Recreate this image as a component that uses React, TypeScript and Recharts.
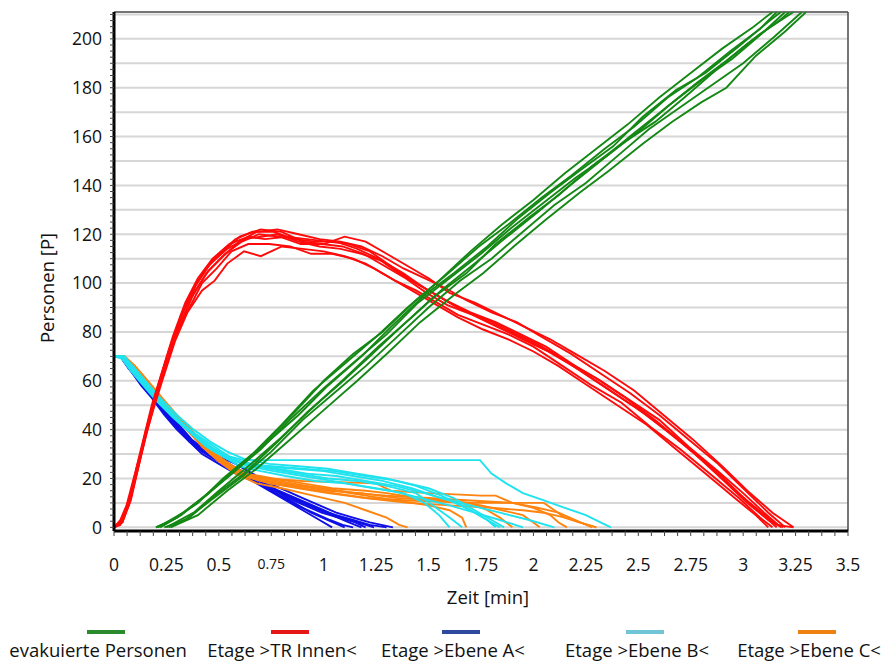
import { LineChart, Line, XAxis, YAxis, CartesianGrid, ReferenceLine, Label } from 'recharts';

// time [min], persons [P] – one array per simulation run
const evakuiertePersonen: number[][][] = [
  [[0.2,0],[0.3,4],[0.42,12],[0.55,21],[0.7,32],[0.85,45],[1.0,57],[1.15,68],[1.3,79],[1.45,92],[1.6,102],[1.75,112],[1.9,123],[2.05,133],[2.2,143],[2.35,152],[2.5,162],[2.65,173],[2.8,183],[2.95,192],[3.1,203],[3.2,211]],
  [[0.24,0],[0.34,3],[0.46,11],[0.6,20],[0.75,31],[0.9,44],[1.05,55],[1.2,66],[1.35,78],[1.5,90],[1.65,101],[1.8,110],[1.95,121],[2.1,132],[2.25,141],[2.4,152],[2.55,163],[2.7,172],[2.85,181],[3.0,190],[3.15,201],[3.28,211]],
  [[0.2,0],[0.28,3],[0.4,10],[0.52,20],[0.66,30],[0.8,42],[0.95,56],[1.1,67],[1.25,78],[1.4,90],[1.55,101],[1.7,113],[1.85,124],[2.0,134],[2.15,145],[2.3,155],[2.45,165],[2.6,176],[2.75,186],[2.9,196],[3.05,205],[3.14,211]],
  [[0.26,0],[0.36,4],[0.48,13],[0.62,22],[0.78,35],[0.92,47],[1.08,59],[1.22,70],[1.38,83],[1.52,94],[1.68,104],[1.82,116],[1.98,127],[2.12,136],[2.28,148],[2.42,157],[2.58,166],[2.72,176],[2.88,188],[3.02,198],[3.18,208],[3.22,211]],
  [[0.22,0],[0.32,5],[0.45,14],[0.58,24],[0.72,34],[0.88,46],[1.02,58],[1.18,70],[1.32,82],[1.48,95],[1.62,104],[1.78,115],[1.92,126],[2.08,137],[2.22,146],[2.38,156],[2.52,168],[2.68,179],[2.82,186],[2.98,197],[3.12,207],[3.18,211]],
  [[0.25,0],[0.38,6],[0.5,15],[0.64,25],[0.8,37],[0.96,50],[1.1,61],[1.26,74],[1.42,86],[1.56,97],[1.72,108],[1.86,118],[2.02,129],[2.16,139],[2.32,150],[2.46,160],[2.62,171],[2.78,182],[2.92,191],[3.08,202],[3.24,211]],
  [[0.27,0],[0.4,5],[0.54,15],[0.68,24],[0.84,36],[1.0,48],[1.16,60],[1.3,71],[1.46,84],[1.62,95],[1.76,104],[1.92,116],[2.06,126],[2.22,137],[2.36,146],[2.52,157],[2.66,166],[2.8,174],[2.92,180],[3.06,193],[3.2,203],[3.3,211]],
  [[0.21,0],[0.33,6],[0.44,13],[0.56,22],[0.7,33],[0.86,47],[1.0,60],[1.14,71],[1.28,80],[1.44,93],[1.58,103],[1.74,115],[1.88,124],[2.04,135],[2.18,144],[2.34,155],[2.48,164],[2.64,176],[2.78,184],[2.94,195],[3.08,204],[3.16,211]],
];

const trInnen: number[][][] = [
  [[0,0],[0.03,2],[0.07,10],[0.11,24],[0.15,39],[0.19,52],[0.24,66],[0.3,82],[0.36,95],[0.43,105],[0.5,112],[0.58,118],[0.66,121],[0.76,121],[0.86,118],[0.96,117],[1.06,117],[1.16,114],[1.26,110],[1.36,104],[1.46,99],[1.56,94],[1.66,89],[1.78,85],[1.9,80],[2.02,75],[2.16,68],[2.3,61],[2.44,53],[2.58,44],[2.72,34],[2.86,24],[2.98,14],[3.08,6],[3.16,0]],
  [[0,0],[0.04,2],[0.08,12],[0.12,27],[0.16,42],[0.2,55],[0.26,72],[0.32,87],[0.38,98],[0.44,106],[0.52,113],[0.6,119],[0.7,122],[0.8,121],[0.9,117],[1.0,116],[1.1,119],[1.2,117],[1.3,112],[1.4,107],[1.5,102],[1.6,96],[1.72,92],[1.84,87],[1.96,82],[2.08,77],[2.2,71],[2.34,64],[2.48,56],[2.62,46],[2.76,36],[2.9,25],[3.02,15],[3.14,6],[3.24,0]],
  [[0,0],[0.03,1],[0.07,9],[0.11,23],[0.15,37],[0.19,49],[0.23,60],[0.29,76],[0.35,88],[0.42,97],[0.48,101],[0.54,108],[0.62,113],[0.7,111],[0.8,115],[0.9,114],[1.0,113],[1.1,111],[1.2,108],[1.32,102],[1.44,96],[1.54,91],[1.64,86],[1.76,81],[1.88,77],[2.0,72],[2.12,66],[2.26,58],[2.4,50],[2.54,42],[2.68,32],[2.82,22],[2.96,12],[3.06,5],[3.12,0]],
  [[0,0],[0.04,3],[0.08,13],[0.12,28],[0.17,45],[0.21,58],[0.27,74],[0.33,88],[0.39,99],[0.46,108],[0.54,114],[0.62,118],[0.7,119],[0.78,120],[0.88,117],[0.98,115],[1.08,114],[1.18,112],[1.28,109],[1.38,104],[1.48,98],[1.58,93],[1.7,88],[1.82,84],[1.94,79],[2.06,74],[2.2,66],[2.32,60],[2.46,52],[2.6,44],[2.74,33],[2.88,23],[3.0,14],[3.1,6],[3.18,0]],
  [[0,0],[0.03,3],[0.06,9],[0.1,22],[0.14,36],[0.18,50],[0.23,64],[0.28,78],[0.34,92],[0.4,102],[0.47,110],[0.55,116],[0.64,119],[0.72,118],[0.82,119],[0.92,118],[1.02,117],[1.12,116],[1.22,113],[1.32,107],[1.42,101],[1.52,96],[1.62,91],[1.74,86],[1.86,81],[1.98,76],[2.12,70],[2.26,62],[2.4,54],[2.54,46],[2.7,35],[2.84,25],[2.96,15],[3.06,8],[3.16,1],[3.24,0]],
  [[0,0],[0.04,2],[0.08,11],[0.12,26],[0.16,40],[0.2,53],[0.25,67],[0.31,82],[0.37,94],[0.44,104],[0.52,111],[0.6,117],[0.68,121],[0.78,122],[0.88,120],[0.98,118],[1.08,117],[1.18,115],[1.28,111],[1.38,106],[1.48,102],[1.58,98],[1.68,93],[1.8,88],[1.92,84],[2.04,78],[2.18,71],[2.32,63],[2.46,55],[2.6,46],[2.74,36],[2.88,26],[3.0,16],[3.12,6],[3.2,0]],
  [[0,0],[0.03,2],[0.07,11],[0.11,25],[0.15,38],[0.2,54],[0.25,69],[0.3,80],[0.36,90],[0.42,100],[0.49,106],[0.56,113],[0.64,116],[0.74,116],[0.84,115],[0.94,112],[1.04,112],[1.14,110],[1.24,106],[1.34,101],[1.44,97],[1.54,92],[1.64,87],[1.76,83],[1.88,79],[2.0,74],[2.14,66],[2.28,58],[2.42,51],[2.56,41],[2.7,32],[2.84,22],[2.98,12],[3.08,4],[3.14,0]],
  [[0,0],[0.04,3],[0.08,12],[0.12,26],[0.16,41],[0.21,56],[0.26,70],[0.32,84],[0.38,96],[0.45,105],[0.53,112],[0.61,117],[0.69,120],[0.79,119],[0.89,116],[0.99,116],[1.09,115],[1.19,112],[1.29,107],[1.39,102],[1.49,96],[1.59,91],[1.71,87],[1.83,82],[1.95,77],[2.07,72],[2.21,65],[2.35,57],[2.49,49],[2.63,40],[2.77,30],[2.91,19],[3.02,10],[3.12,3],[3.19,0]],
];

const ebeneA: number[][][] = [
  [[0,70],[0.03,70],[0.07,66],[0.12,61],[0.18,54],[0.24,47],[0.3,41],[0.36,35],[0.42,31],[0.5,27],[0.58,23],[0.66,19],[0.74,15],[0.82,11],[0.9,7],[0.98,3],[1.04,0]],
  [[0,70],[0.04,70],[0.08,66],[0.13,61],[0.19,53],[0.25,46],[0.31,40],[0.38,34],[0.45,31],[0.53,27],[0.61,22],[0.69,18],[0.77,14],[0.86,10],[0.94,6],[1.02,3],[1.1,0]],
  [[0,70],[0.03,70],[0.07,65],[0.12,60],[0.17,55],[0.23,49],[0.29,43],[0.35,37],[0.41,32],[0.48,29],[0.56,25],[0.64,22],[0.72,18],[0.8,14],[0.88,11],[0.96,8],[1.04,5],[1.12,2],[1.18,0]],
  [[0,70],[0.04,70],[0.09,65],[0.14,59],[0.2,52],[0.26,45],[0.32,39],[0.38,34],[0.44,30],[0.52,26],[0.6,23],[0.68,20],[0.76,16],[0.84,13],[0.92,10],[1.0,7],[1.08,4],[1.16,2],[1.24,0]],
  [[0,70],[0.03,70],[0.08,64],[0.13,58],[0.18,53],[0.24,46],[0.3,40],[0.36,35],[0.42,30],[0.5,26],[0.58,22],[0.66,19],[0.74,16],[0.82,13],[0.9,10],[0.98,7],[1.06,5],[1.14,3],[1.22,1],[1.3,0]],
  [[0,70],[0.04,70],[0.08,66],[0.13,60],[0.19,54],[0.25,48],[0.31,42],[0.37,36],[0.43,32],[0.5,29],[0.58,26],[0.66,22],[0.74,18],[0.82,15],[0.9,12],[0.98,9],[1.06,6],[1.14,4],[1.22,2],[1.33,0]],
  [[0,70],[0.03,70],[0.07,66],[0.12,62],[0.17,56],[0.22,50],[0.28,44],[0.34,38],[0.4,33],[0.47,29],[0.55,25],[0.63,21],[0.71,17],[0.79,13],[0.87,9],[0.95,6],[1.03,3],[1.09,1],[1.14,0]],
  [[0,70],[0.04,70],[0.08,65],[0.13,60],[0.18,54],[0.24,47],[0.3,41],[0.36,36],[0.43,32],[0.51,28],[0.59,24],[0.67,20],[0.75,16],[0.83,12],[0.91,9],[0.99,6],[1.07,4],[1.15,2],[1.2,0]],
];

const ebeneB: number[][][] = [
  [[0,70],[0.04,70],[0.08,66],[0.14,60],[0.2,54],[0.27,47],[0.34,41],[0.41,37],[0.48,33],[0.55,29],[0.62,27.5],[1.745,27.5],[1.8,22],[1.87,18],[1.95,14],[2.05,11],[2.15,8],[2.25,5],[2.32,2],[2.37,0]],
  [[0,70],[0.04,69],[0.09,64],[0.15,58],[0.22,51],[0.3,44],[0.38,38],[0.46,32],[0.54,28],[0.62,26],[0.75,25],[0.9,24],[1.05,23],[1.2,21],[1.35,19],[1.5,16],[1.62,12],[1.72,7],[1.8,3],[1.86,0]],
  [[0,70],[0.03,70],[0.08,65],[0.14,59],[0.21,52],[0.29,45],[0.37,39],[0.45,33],[0.53,29],[0.62,26],[0.74,24],[0.88,22],[1.02,20],[1.16,19],[1.3,17],[1.44,14],[1.52,9],[1.6,4],[1.66,0]],
  [[0,70],[0.05,70],[0.1,65],[0.16,58],[0.23,50],[0.31,43],[0.39,37],[0.47,32],[0.55,28],[0.64,25],[0.76,23],[0.9,21],[1.04,19],[1.18,17],[1.32,15],[1.46,12],[1.6,9],[1.72,6],[1.84,3],[1.95,0]],
  [[0,70],[0.04,70],[0.09,65],[0.15,59],[0.21,53],[0.28,46],[0.36,40],[0.44,34],[0.52,30],[0.6,27],[0.72,25],[0.86,24],[1.0,23],[1.14,21],[1.28,19],[1.42,16],[1.56,12],[1.7,9],[1.84,6],[1.98,3],[2.1,0]],
  [[0,70],[0.03,70],[0.08,64],[0.14,58],[0.2,52],[0.28,45],[0.36,39],[0.44,33],[0.52,29],[0.6,25],[0.7,23],[0.82,21],[0.96,19],[1.1,18],[1.24,16],[1.38,14],[1.48,10],[1.55,5],[1.6,0]],
  [[0,70],[0.04,70],[0.09,66],[0.15,60],[0.22,53],[0.3,46],[0.38,40],[0.46,35],[0.54,31],[0.62,28],[0.74,26],[0.88,25],[1.02,24],[1.16,22],[1.3,20],[1.44,17],[1.56,13],[1.66,9],[1.74,5],[1.8,2],[1.84,0]],
  [[0,70],[0.05,70],[0.1,64],[0.17,57],[0.24,50],[0.32,43],[0.4,37],[0.48,32],[0.56,28],[0.65,26],[0.78,24],[0.92,22],[1.06,21],[1.2,19],[1.34,17],[1.48,14],[1.6,11],[1.7,7],[1.78,3],[1.82,0]],
];

const ebeneC: number[][][] = [
  [[0,70],[0.05,70],[0.1,66],[0.16,60],[0.22,53],[0.29,46],[0.36,39],[0.44,32],[0.52,26],[0.6,22],[0.72,20],[0.9,19],[1.25,18],[1.32,15],[1.5,14],[1.75,13],[1.82,13],[1.9,10],[2.02,8],[2.12,6],[2.2,3],[2.28,0]],
  [[0,70],[0.04,70],[0.09,66],[0.15,60],[0.21,54],[0.28,47],[0.35,40],[0.42,33],[0.5,27],[0.58,22],[0.68,18],[0.8,16],[0.95,13],[1.1,10],[1.2,7],[1.3,4],[1.36,1],[1.4,0]],
  [[0,70],[0.05,70],[0.1,65],[0.17,58],[0.24,51],[0.31,44],[0.38,38],[0.46,31],[0.54,25],[0.62,21],[0.75,18],[0.9,16],[1.05,14],[1.2,12],[1.4,11],[1.7,10],[2.05,10],[2.1,7],[2.15,4],[2.22,2],[2.3,0]],
  [[0,70],[0.05,70],[0.11,65],[0.18,58],[0.25,50],[0.32,43],[0.4,36],[0.48,29],[0.56,24],[0.64,21],[0.78,19],[0.92,17],[1.06,15],[1.2,13],[1.35,11],[1.5,9],[1.6,7],[1.66,4],[1.68,0]],
  [[0,70],[0.04,70],[0.09,66],[0.15,59],[0.22,52],[0.3,45],[0.38,38],[0.46,31],[0.54,26],[0.62,22],[0.74,19],[0.88,17],[1.02,15],[1.18,14],[1.35,12],[1.55,11],[1.7,10],[1.78,7],[1.84,4],[1.9,0]],
  [[0,70],[0.05,70],[0.1,66],[0.16,59],[0.23,52],[0.3,45],[0.37,38],[0.45,31],[0.53,26],[0.61,22],[0.72,19],[0.86,17],[1.0,16],[1.15,14],[1.3,13],[1.5,12],[1.7,11],[1.9,10],[2.0,8],[2.08,5],[2.12,2],[2.16,0]],
  [[0,70],[0.04,70],[0.1,65],[0.16,58],[0.23,51],[0.3,44],[0.38,37],[0.46,30],[0.54,25],[0.62,21],[0.74,18],[0.88,16],[1.02,14],[1.2,12],[1.4,10],[1.6,9],[1.8,8],[1.95,7],[2.05,6],[2.15,4],[2.22,2],[2.3,0]],
  [[0,70],[0.05,70],[0.1,66],[0.17,59],[0.24,52],[0.31,45],[0.39,38],[0.47,31],[0.55,26],[0.63,22],[0.76,20],[0.9,18],[1.04,16],[1.2,15],[1.3,14],[1.45,12],[1.6,11],[1.75,9],[1.85,7],[1.95,5],[2.0,2],[2.03,0]],
];

const xMajor = [0, 0.25, 0.5, 0.75, 1, 1.25, 1.5, 1.75, 2, 2.25, 2.5, 2.75, 3, 3.25, 3.5];
const xTickLabels = ['0', '0.25', '0.5', '0.75', '1', '1.25', '1.5', '1.75', '2', '2.25', '2.5', '2.75', '3', '3.25', '3.5'];
const yTickValues = [0, 20, 40, 60, 80, 100, 120, 140, 160, 180, 200];
const yGridValues = [0, 10, 20, 30, 40, 50, 60, 70, 80, 90, 100, 110, 120, 130, 140, 150, 160, 170, 180, 190, 200, 210];
const xMinorTicks = Array.from({ length: 57 }, (_, i) => i * 0.0625);
const yMinorTicks = Array.from({ length: 85 }, (_, i) => i * 2.5);

const X_DOMAIN: [number, number] = [0, 3.5];
const Y_DOMAIN: [number, number] = [-1.5, 211];
const FONT = '"Open Sans", "DejaVu Sans", sans-serif';

const SERIES = [
  { name: 'evakuierte Personen', runs: evakuiertePersonen, stroke: '#148814', swatch: '#2b8a2b', center: 98 },
  { name: 'Etage >TR Innen<', runs: trInnen, stroke: '#ff0a0a', swatch: '#e41818', center: 282 },
  { name: 'Etage >Ebene A<', runs: ebeneA, stroke: '#0e0ee6', swatch: '#2e4a9e', center: 453 },
  { name: 'Etage >Ebene B<', runs: ebeneB, stroke: '#1fe3ee', swatch: '#70c6d6', center: 637 },
  { name: 'Etage >Ebene C<', runs: ebeneC, stroke: '#ff840f', swatch: '#ef8012', center: 809 },
];

// draw order: lower floors first, totals on top
const DRAW_ORDER = [2, 4, 3, 1, 0];

const toPoints = (run: number[][]) => run.map(([t, p]) => ({ t, p }));

const near = (a: number, b: number) => Math.abs(a - b) < 1e-6;

function XTick({ x, y, payload }: any) {
  const idx = xMajor.findIndex(v => near(v, payload.value));
  if (idx < 0) return null;
  const label = xTickLabels[idx];
  return (
    <text x={x} y={y} dy="0.71em" textAnchor="middle" fill="#111" fontFamily={FONT} fontSize={label === '0.75' ? 14 : 17.5}>
      {label}
    </text>
  );
}

function YTick({ x, y, payload }: any) {
  if (!yTickValues.some(v => near(v, payload.value))) return null;
  return (
    <text x={x} y={y} dy="0.36em" textAnchor="end" fill="#111" fontFamily={FONT} fontSize={17.5}>
      {payload.value}
    </text>
  );
}

export default function App() {
  return (
    <div style={{ position: 'absolute', left: 0, top: 0, width: 887, height: 661, background: '#fff', fontFamily: FONT }}>
      <LineChart width={887} height={615} margin={{ top: 12, right: 39, left: 0, bottom: 0 }}>
        <XAxis
          xAxisId="x"
          dataKey="t"
          type="number"
          domain={X_DOMAIN}
          ticks={xMinorTicks}
          interval={0}
          allowDataOverflow
          height={84}
          tickSize={5}
          tickMargin={23}
          tick={<XTick />}
          tickLine={{ stroke: '#444' }}
          axisLine={{ stroke: '#000', strokeWidth: 3 }}
        >
          <Label
            content={() => (
              <text x={488} y={596} textAnchor="middle" dominantBaseline="central" fill="#111" fontFamily={FONT} fontSize={18.5}>
                Zeit [min]
              </text>
            )}
          />
        </XAxis>
        <YAxis
          yAxisId="y"
          type="number"
          domain={Y_DOMAIN}
          ticks={yMinorTicks}
          interval={0}
          allowDataOverflow
          width={114}
          tickSize={4}
          tickMargin={8}
          tick={<YTick />}
          tickLine={{ stroke: '#444' }}
          axisLine={{ stroke: '#000', strokeWidth: 3 }}
        >
          <Label
            content={() => (
              <text x={46} y={288} transform="rotate(-90 46 288)" textAnchor="middle" dominantBaseline="central" fill="#111" fontFamily={FONT} fontSize={18.5}>
                Personen [P]
              </text>
            )}
          />
        </YAxis>
        <XAxis xAxisId="gx" type="number" domain={X_DOMAIN} ticks={xMajor} hide height={0} allowDataOverflow />
        <YAxis yAxisId="gy" type="number" domain={Y_DOMAIN} ticks={yGridValues} hide width={0} allowDataOverflow />
        <CartesianGrid xAxisId="gx" yAxisId="gy" vertical={false} stroke="#d6d6d6" strokeWidth={2} />
        <CartesianGrid xAxisId="gx" yAxisId="gy" horizontal={false} stroke="#bdbdbd" strokeWidth={1.2} />
        <ReferenceLine xAxisId="x" yAxisId="y" y={211} stroke="#555" strokeWidth={1.5} />
        <ReferenceLine xAxisId="x" yAxisId="y" x={3.5} stroke="#555" strokeWidth={1.5} />
        {DRAW_ORDER.flatMap(si =>
          SERIES[si].runs.map((run, ri) => (
            <Line
              key={`${si}-${ri}`}
              xAxisId="x"
              yAxisId="y"
              data={toPoints(run)}
              dataKey="p"
              type="linear"
              stroke={SERIES[si].stroke}
              strokeWidth={1.9}
              dot={false}
              activeDot={false}
              isAnimationActive={false}
            />
          ))
        )}
      </LineChart>
      {SERIES.map(s => (
        <div key={s.name}>
          <div style={{ position: 'absolute', left: s.center - 11, top: 630, width: 38, height: 4, background: s.swatch }} />
          <div
            style={{
              position: 'absolute',
              left: s.center,
              top: 638,
              transform: 'translateX(-50%)',
              whiteSpace: 'nowrap',
              fontSize: 18.5,
              color: '#111',
              lineHeight: '24px',
            }}
          >
            {s.name}
          </div>
        </div>
      ))}
    </div>
  );
}
